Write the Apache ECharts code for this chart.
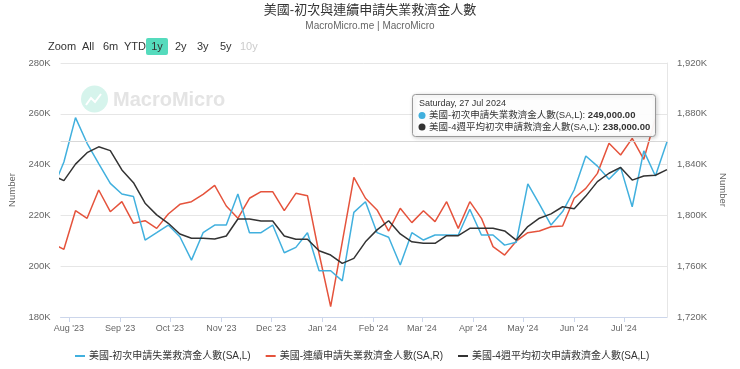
<!DOCTYPE html>
<html>
<head>
<meta charset="utf-8">
<script src="https://cdn.jsdelivr.net/npm/echarts@6/dist/echarts.min.js"></script>
<style>
html,body{margin:0;padding:0;background:#fff;}
#chart{width:740px;height:369px;}
</style>
</head>
<body>
<div id="chart"></div>
<script>
var titleText = '美國-初次與連續申請失業救濟金人數';
var subText = 'MacroMicro.me | MacroMicro';
var seriesNames = ['美國-初次申請失業救濟金人數(SA,L)', '美國-連續申請失業救濟金人數(SA,R)', '美國-4週平均初次申請救濟金人數(SA,L)'];
var rangeButtons = ['All', '6m', 'YTD', '1y', '2y', '3y', '5y', '10y'];
var tooltipTitle = 'Saturday, 27 Jul 2024';

var dates = ['2023-07-22','2023-07-29','2023-08-05','2023-08-12','2023-08-19','2023-08-26','2023-09-02','2023-09-09','2023-09-16','2023-09-23','2023-09-30',
'2023-10-07','2023-10-14','2023-10-21','2023-10-28','2023-11-04','2023-11-11','2023-11-18','2023-11-25','2023-12-02','2023-12-09','2023-12-16','2023-12-23','2023-12-30',
'2024-01-06','2024-01-13','2024-01-20','2024-01-27','2024-02-03','2024-02-10','2024-02-17','2024-02-24','2024-03-02','2024-03-09','2024-03-16','2024-03-23','2024-03-30',
'2024-04-06','2024-04-13','2024-04-20','2024-04-27','2024-05-04','2024-05-11','2024-05-18','2024-05-25','2024-06-01','2024-06-08','2024-06-15','2024-06-22','2024-06-29',
'2024-07-06','2024-07-13','2024-07-20','2024-07-27'];

var initialClaims = [230000,241000,258500,248400,240400,232600,228400,227400,210300,213200,216200,
211600,202400,213200,216200,216200,228400,213200,213200,216200,205300,207400,213200,198200,
198200,194200,221200,225400,213200,211400,200500,213200,210300,212300,212300,212300,222400,
212300,212300,208300,209400,232400,224400,216200,221500,230000,243400,239400,234200,238900,
223400,245400,235500,249000];

var continuingClaims = [1778000,1773300,1803700,1797700,1820000,1802900,1810800,1793800,1795800,1789800,1801100,
1808700,1810800,1816600,1823700,1807400,1797700,1813500,1818700,1818700,1803700,1817400,1815500,1770000,
1728100,1779000,1830000,1813500,1804300,1787700,1805600,1794300,1803700,1795100,1810800,1789800,1810800,
1797700,1775400,1768800,1779700,1786400,1787700,1791100,1791700,1813500,1821300,1833100,1856800,1847600,
1860700,1844200,1876300,null];

var avg4wk = [235800,233700,240200,244700,247000,245500,237900,232900,224800,220200,216900,
212700,211000,211000,210700,211900,218600,218600,217800,217800,211900,210600,210600,206100,
204400,201100,203100,209600,214300,217900,212700,209600,209000,209000,212000,212000,214900,
214900,214900,213900,210300,215600,218900,220600,223400,222600,227600,233300,236600,238900,
233900,235500,235800,238000];

var monthTicks = ['2023-08-01','2023-09-01','2023-10-01','2023-11-01','2023-12-01','2024-01-01','2024-02-01','2024-03-01','2024-04-01','2024-05-01','2024-06-01','2024-07-01'];
var monthLabels = ["Aug '23","Sep '23","Oct '23","Nov '23","Dec '23","Jan '24","Feb '24","Mar '24","Apr '24","May '24","Jun '24","Jul '24"];
var xRange = ['2023-07-27', '2024-07-27'];

var colors = ['#41b0de', '#e5533c', '#333333'];
var FONT = '"Liberation Sans", "Noto Sans CJK TC", sans-serif';

function toUTC(s){ var p = s.split('-'); return Date.UTC(+p[0], +p[1]-1, +p[2]); }
var tickTimes = monthTicks.map(toUTC);
function pair(arr){ return dates.map(function(d,i){ return [toUTC(d), arr[i]]; }); }
function fmtNum(v){ var s = v.toFixed(2); var parts = s.split('.'); parts[0] = parts[0].replace(/\B(?=(\d{3})+(?!\d))/g, ','); return parts.join('.'); }

var chart = echarts.init(document.getElementById('chart'), null, {renderer:'canvas'});

var btnX = [82, 103, 124, 146, 175, 197, 220, 240];
var graphics = [];
graphics.push({type:'text', style:{text:'Zoom', x:48, y:46.5, verticalAlign:'middle', fill:'#333', font:'11px ' + FONT}});
rangeButtons.forEach(function(b, i){
  if (b === '1y') {
    graphics.push({type:'rect', shape:{x:146, y:38, width:22, height:17, r:2}, style:{fill:'#55dbbd'}});
    graphics.push({type:'text', style:{text:b, x:157, y:46.5, align:'center', verticalAlign:'middle', fill:'#333', font:'11px ' + FONT}});
  } else {
    graphics.push({type:'text', style:{text:b, x:btnX[i], y:46.5, verticalAlign:'middle', fill: b === '10y' ? '#ccc' : '#333', font:'11px ' + FONT}});
  }
});
graphics.push({type:'circle', shape:{cx:94.5, cy:99, r:13.5}, style:{fill:'#d6f4ec'}, z:0});
graphics.push({type:'polyline', shape:{points:[[86,105],[91,98],[95,102],[101,94]]}, style:{stroke:'#fff', lineWidth:2, fill:null}, z:0});
graphics.push({type:'text', style:{text:'MacroMicro', x:113, y:100, verticalAlign:'middle', fill:'#e4e4e4', font:'bold 20px ' + FONT}, z:0});

var lastIdx = dates.length - 1;
graphics.push({type:'rect', shape:{x:412.5, y:94.5, width:243, height:42, r:3}, style:{fill:'rgba(255,255,255,0.95)', stroke:'#999', lineWidth:1, shadowBlur:4, shadowOffsetX:1, shadowOffsetY:1, shadowColor:'rgba(0,0,0,0.2)'}, z:100});
graphics.push({type:'text', style:{text:tooltipTitle, x:419, y:104, verticalAlign:'middle', fill:'#333', font:'9px ' + FONT}, z:101});
var tipRows = [[0, initialClaims[lastIdx]], [2, avg4wk[lastIdx]]];
tipRows.forEach(function(r, k){
  var yy = 115.5 + k * 11.5;
  graphics.push({type:'circle', shape:{cx:422, cy:yy, r:3.5}, style:{fill:colors[r[0]]}, z:101});
  graphics.push({type:'text', style:{text:'{a|' + seriesNames[r[0]] + ': }{b|' + fmtNum(r[1]) + '}', x:429, y:yy, verticalAlign:'middle',
    rich:{a:{fontSize:9.5, fill:'#333', fontFamily:FONT}, b:{fontSize:9.5, fontWeight:'bold', fill:'#333', fontFamily:FONT}}}, z:101});
});

var option = {
  animation: false,
  textStyle: {fontFamily: FONT},
  title: {
    text: titleText, subtext: subText, left: 'center', top: -1, itemGap: 4,
    textStyle: {fontSize: 13, fontWeight: 'normal', color: '#333', fontFamily: FONT},
    subtextStyle: {fontSize: 10, color: '#666', fontFamily: FONT}
  },
  color: colors,
  grid: {left: 50, right: 73, top: 63, bottom: 52, containLabel: false},
  legend: {
    left: 70, top: 346, icon: 'rect', itemWidth: 10, itemHeight: 2, itemGap: 15,
    textStyle: {fontSize: 10, color: '#333', fontFamily: FONT, padding: [0, 0, 0, -1]},
    data: seriesNames
  },
  xAxis: {
    type: 'value',
    min: toUTC(xRange[0]), max: toUTC(xRange[1]),
    axisLine: {show: true, onZero: false, lineStyle: {color: '#ccd6eb'}},
    axisTick: {show: true, customValues: tickTimes, length: 5, lineStyle: {color: '#ccd6eb'}},
    axisLabel: {customValues: tickTimes, color: '#666', fontSize: 9, margin: 7, formatter: function(v){ var i = tickTimes.indexOf(v); return i >= 0 ? monthLabels[i] : ''; }},
    splitLine: {show: false}
  },
  yAxis: [
    {type: 'value', min: 180000, max: 280000, interval: 20000, position: 'left',
     name: 'Number', nameLocation: 'middle', nameGap: 37, nameRotate: 90,
     nameTextStyle: {color: '#666', fontSize: 9.5},
     axisLine: {show: false}, axisTick: {show: false},
     axisLabel: {color: '#666', fontSize: 9.5, margin: 10, formatter: function(v){ return (v/1000) + 'K'; }},
     splitLine: {lineStyle: {color: '#e6e6e6'}}},
    {type: 'value', min: 1720000, max: 1920000, interval: 40000, position: 'right',
     name: 'Number', nameLocation: 'middle', nameGap: 38, nameRotate: -90,
     nameTextStyle: {color: '#666', fontSize: 9.5},
     axisLine: {show: true, lineStyle: {color: '#e6e6e6'}}, axisTick: {show: false},
     axisLabel: {color: '#666', fontSize: 9.5, margin: 10, formatter: function(v){ return (v/1000).toString().replace(/\B(?=(\d{3})+(?!\d))/g, ',') + 'K'; }},
     splitLine: {show: false}}
  ],
  series: [
    {name: seriesNames[0], type: 'line', yAxisIndex: 0, data: pair(initialClaims), showSymbol: false, lineStyle: {width: 1.5}, z: 3,
     markLine: {silent: true, symbol: 'none', label: {show: false}, lineStyle: {color: '#d8d8d8', width: 1, type: 'solid'}, data: [{yAxis: initialClaims[lastIdx]}]}},
    {name: seriesNames[1], type: 'line', yAxisIndex: 1, data: pair(continuingClaims), showSymbol: false, lineStyle: {width: 1.5}, z: 2},
    {name: seriesNames[2], type: 'line', yAxisIndex: 0, data: pair(avg4wk), showSymbol: false, lineStyle: {width: 1.5}, z: 4}
  ],
  graphic: graphics
};
chart.setOption(option);
</script>
</body>
</html>
